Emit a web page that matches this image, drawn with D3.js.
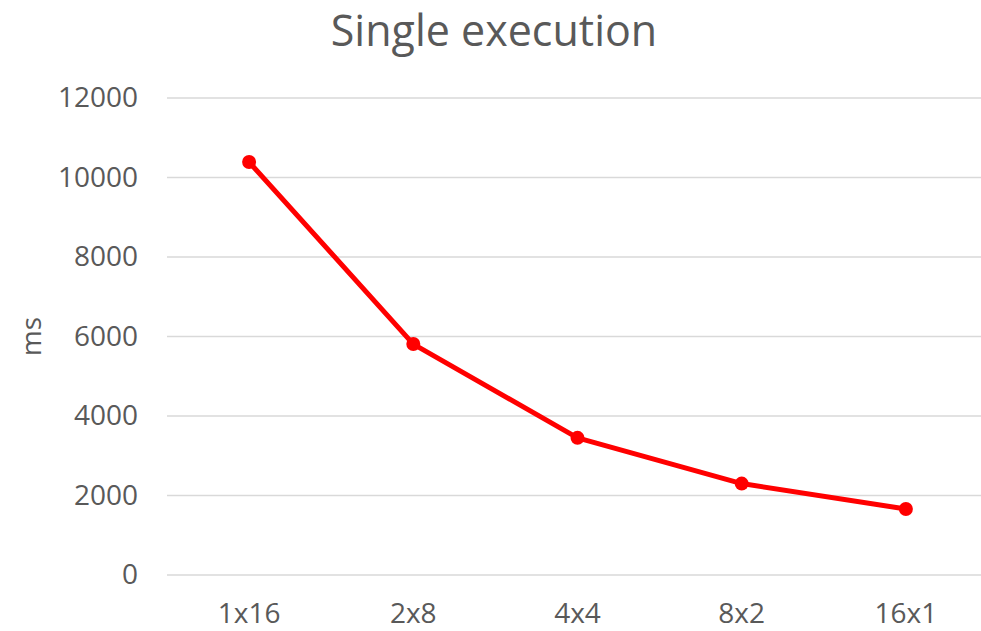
<!DOCTYPE html>
<html>
<head>
<meta charset="utf-8">
<script src="https://cdn.jsdelivr.net/npm/d3@7/dist/d3.min.js"></script>
<style>
  html, body { margin: 0; padding: 0; background: #fff; }
  svg { display: block; }
  text { font-family: "Open Sans", "Noto Sans", sans-serif; fill: #595959; }
</style>
</head>
<body>
<svg id="chart" width="981" height="631"></svg>
<script>
const categories = ["1x16", "2x8", "4x4", "8x2", "16x1"];
const timesMs = [10390, 5810, 3450, 2300, 1660];
const yTicks = [0, 2000, 4000, 6000, 8000, 10000, 12000];

const svg = d3.select("#chart");
const margin = { left: 167, right: -7, top: 98, bottom: 56 };
const W = 981, H = 631;

const x = d3.scaleBand()
  .domain(categories)
  .range([margin.left, W - margin.right])
  .paddingInner(0).paddingOuter(0);

const y = d3.scaleLinear()
  .domain([0, 12000])
  .range([H - margin.bottom, margin.top]);

// horizontal gridlines
svg.append("g")
  .selectAll("line")
  .data(yTicks)
  .join("line")
  .attr("x1", margin.left)
  .attr("x2", W - margin.right)
  .attr("y1", d => y(d))
  .attr("y2", d => y(d))
  .attr("stroke", "#d9d9d9")
  .attr("stroke-width", 1.5);

// y axis labels
const yAxis = d3.axisLeft(y).tickValues(yTicks).tickFormat(d3.format("d")).tickSize(0).tickPadding(0);
const gy = svg.append("g")
  .attr("transform", `translate(${margin.left - 29},0)`)
  .call(yAxis);
gy.select(".domain").remove();
gy.selectAll("text")
  .style("font-size", "28px")
  .attr("fill", "#595959");

// x axis labels
const xAxis = d3.axisBottom(x).tickSize(0).tickPadding(0);
const gx = svg.append("g")
  .attr("transform", `translate(0,${H - margin.bottom + 28})`)
  .call(xAxis);
gx.select(".domain").remove();
gx.selectAll("text")
  .style("font-size", "28px")
  .attr("fill", "#595959");

// y axis title
svg.append("text")
  .attr("transform", `translate(41,${(y(0) + y(12000)) / 2}) rotate(-90)`)
  .attr("text-anchor", "middle")
  .style("font-size", "28px")
  .text("ms");

// chart title
svg.append("text")
  .attr("x", 494)
  .attr("y", 46)
  .attr("text-anchor", "middle")
  .style("font-size", "43px")
  .text("Single execution");

const cx = d => x(d) + x.bandwidth() / 2;
const pts = categories.map((c, i) => [cx(c), y(timesMs[i])]);

svg.append("path")
  .attr("d", d3.line()(pts))
  .attr("fill", "none")
  .attr("stroke", "#ff0000")
  .attr("stroke-width", 5)
  .attr("stroke-linejoin", "round")
  .attr("stroke-linecap", "round");

svg.append("g")
  .selectAll("circle")
  .data(pts)
  .join("circle")
  .attr("cx", d => d[0])
  .attr("cy", d => d[1])
  .attr("r", 7)
  .attr("fill", "#ff0000");
</script>
</body>
</html>
